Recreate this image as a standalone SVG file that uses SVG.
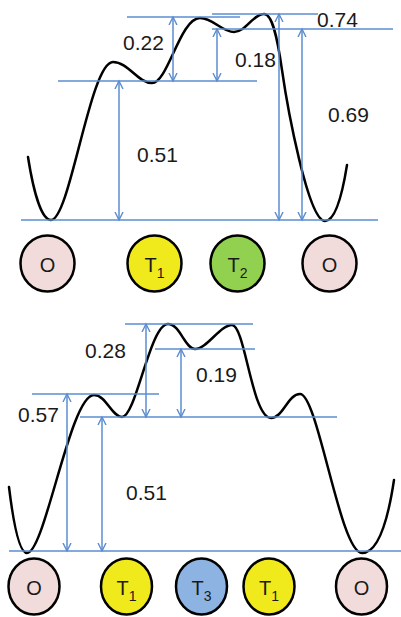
<svg xmlns="http://www.w3.org/2000/svg" width="401" height="617" viewBox="0 0 401 617">
<style>
.ln{stroke:#5b8cd0;stroke-width:1.5;fill:none}
.ar{stroke:#5b8cd0;stroke-width:1.5;fill:none;marker-start:url(#ah);marker-end:url(#ah)}
.cv{stroke:#000;stroke-width:2.5;fill:none;stroke-linecap:round}
.val{font-family:"Liberation Sans",Arial,sans-serif;font-size:21px;fill:#1a1a1a}
.nd{stroke:#000;stroke-width:2.5}
.nt{font-family:"Liberation Sans",Arial,sans-serif;font-size:20px;fill:#1a1a1a;text-anchor:middle}
.sub{font-size:14px}
</style>
<defs>
<marker id="ah" markerUnits="userSpaceOnUse" markerWidth="10" markerHeight="10" refX="8" refY="4" orient="auto-start-reverse" viewBox="0 0 10 8">
<path d="M0,0 L8,4 L0,8" fill="none" stroke="#5b8cd0" stroke-width="1.4"/>
</marker>
</defs>
<g id="curves">
<path class="cv" d="M28,157 C34,195 42,220 51,220 C70,220 90,62 113,62 C128,62 138,83 152,83 C168,83 180,18 200,18 C213,18 222,32 234,32 C246,32 253,14 264,14 C272,14 277,35 282,70 C287,105 308,221 325,221 C336,221 343,190 347,165"/>
<path class="cv" d="M9,487 C13,520 19,553 27,553 C45,553 70,395 94,395 C106,395 112,417 122,417 C136,417 150,324 168,324 C180,324 185,349 195,349 C207,349 220,325 232,325 C245,325 252,418 271,418 C283,418 288,394 300,394 C318,394 340,553 362,553 C378,553 388,520 394,480"/>
</g>
<g id="connectors">
<line class="ln" x1="127" y1="17" x2="240" y2="17"/>
<line class="ln" x1="212" y1="14" x2="318" y2="14"/>
<line class="ln" x1="212" y1="29" x2="393" y2="29"/>
<line class="ln" x1="58" y1="81" x2="257" y2="81"/>
<line class="ln" x1="21" y1="220" x2="378" y2="220"/>
<line class="ar" x1="173" y1="17" x2="173" y2="81"/>
<line class="ar" x1="119" y1="81" x2="119" y2="220"/>
<line class="ar" x1="217" y1="29" x2="217" y2="81"/>
<line class="ar" x1="279" y1="14" x2="279" y2="220"/>
<line class="ar" x1="302" y1="29" x2="302" y2="220"/>
<line class="ln" x1="125" y1="324" x2="253" y2="324"/>
<line class="ln" x1="155" y1="349" x2="255" y2="349"/>
<line class="ln" x1="32" y1="394" x2="159" y2="394"/>
<line class="ln" x1="80" y1="417" x2="337" y2="417"/>
<line class="ln" x1="9" y1="551" x2="401" y2="551"/>
<line class="ar" x1="67" y1="394" x2="67" y2="551"/>
<line class="ar" x1="102" y1="417" x2="102" y2="551"/>
<line class="ar" x1="146" y1="324" x2="146" y2="417"/>
<line class="ar" x1="181" y1="349" x2="181" y2="417"/>
</g>
<g id="values">
<text class="val" x="123" y="50">0.22</text>
<text class="val" x="137" y="162">0.51</text>
<text class="val" x="235" y="67">0.18</text>
<text class="val" x="317" y="27">0.74</text>
<text class="val" x="328" y="122">0.69</text>
<text class="val" x="85" y="358">0.28</text>
<text class="val" x="18" y="422">0.57</text>
<text class="val" x="126" y="500">0.51</text>
<text class="val" x="196" y="382">0.19</text>
</g>
<g id="top-O1"><ellipse class="nd" cx="47.5" cy="263.5" rx="27" ry="28" fill="#f2dcdb"/><text class="nt" x="47.5" y="272">O</text></g>
<g id="top-T1"><ellipse class="nd" cx="154.5" cy="263.5" rx="27" ry="28" fill="#f0e91b"/><text class="nt" x="154.5" y="272">T<tspan class="sub" dy="6">1</tspan></text></g>
<g id="top-T2"><ellipse class="nd" cx="237.5" cy="263.5" rx="27" ry="28" fill="#92d050"/><text class="nt" x="237.5" y="272">T<tspan class="sub" dy="6">2</tspan></text></g>
<g id="top-O2"><ellipse class="nd" cx="329.5" cy="263.5" rx="27" ry="28" fill="#f2dcdb"/><text class="nt" x="329.5" y="272">O</text></g>
<g id="bot-O1"><ellipse class="nd" cx="34" cy="586.5" rx="25.5" ry="28" fill="#f2dcdb"/><text class="nt" x="34" y="595">O</text></g>
<g id="bot-T1a"><ellipse class="nd" cx="126.5" cy="586.5" rx="25.5" ry="28" fill="#f0e91b"/><text class="nt" x="126.5" y="595">T<tspan class="sub" dy="6">1</tspan></text></g>
<g id="bot-T3"><ellipse class="nd" cx="201.5" cy="586.5" rx="25.5" ry="28" fill="#8db3e2"/><text class="nt" x="201.5" y="595">T<tspan class="sub" dy="6">3</tspan></text></g>
<g id="bot-T1b"><ellipse class="nd" cx="269" cy="586.5" rx="25.5" ry="28" fill="#f0e91b"/><text class="nt" x="269" y="595">T<tspan class="sub" dy="6">1</tspan></text></g>
<g id="bot-O2"><ellipse class="nd" cx="361.5" cy="586.5" rx="25.5" ry="28" fill="#f2dcdb"/><text class="nt" x="361.5" y="595">O</text></g>
</svg>
